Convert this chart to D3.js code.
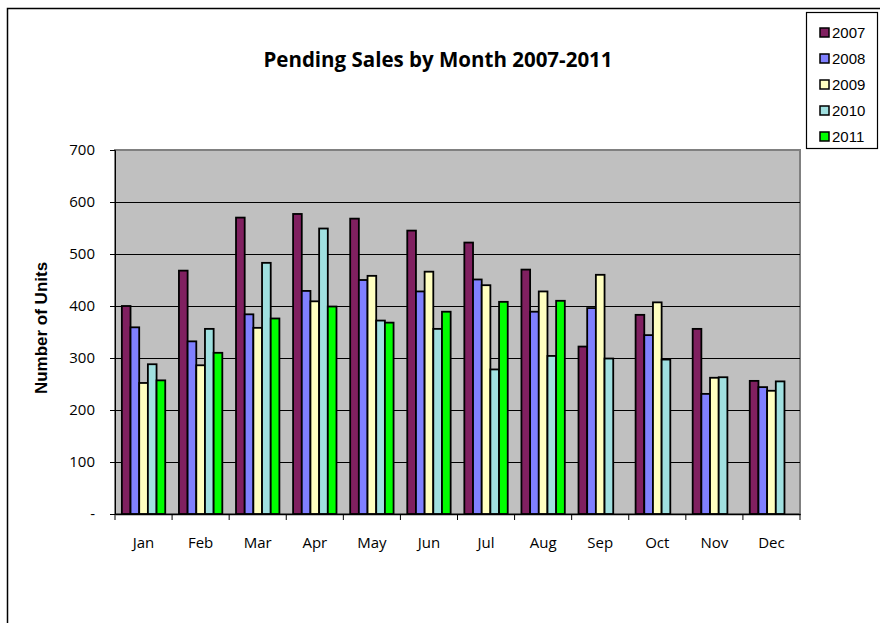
<!DOCTYPE html>
<meta charset="utf-8">
<script src="https://d3js.org/d3.v7.min.js"></script>
<style>
  body { margin: 0; background: #fff; }
  text { font-family: "Open Sans", "Liberation Sans", sans-serif; }
</style>
<div id="chart"></div>
<script>

// chart data
var months = ["Jan","Feb","Mar","Apr","May","Jun","Jul","Aug","Sep","Oct","Nov","Dec"];
var years = ["2007","2008","2009","2010","2011"];
var sales2007 = [400, 468, 570, 577, 568, 545, 522, 470, 322, 383, 356, 256];
var sales2008 = [359, 332, 384, 429, 450, 428, 451, 389, 396, 344, 231, 244];
var sales2009 = [252, 286, 358, 409, 458, 466, 440, 428, 460, 407, 262, 237];
var sales2010 = [288, 356, 483, 549, 372, 356, 278, 304, 299, 297, 263, 255];
var sales2011 = [257, 310, 376, 399, 368, 389, 408, 410, null, null, null, null];
var yTicks = [0, 100, 200, 300, 400, 500, 600, 700];

var series = [sales2007, sales2008, sales2009, sales2010, sales2011];
var colors = ["#802060", "#8080FF", "#FFFFC0", "#A0E0E0", "#00FF00"];

var W = 880, H = 623;
var plot = {left: 115, right: 800, top: 150, bottom: 514};

var svg = d3.select("#chart").append("svg")
  .attr("width", W)
  .attr("height", H);

// outer chart border (runs off the picture right and bottom)
svg.append("rect")
  .attr("x", 7.5).attr("y", 8.5)
  .attr("width", W).attr("height", H)
  .attr("fill", "#fff")
  .attr("stroke", "#000")
  .attr("stroke-width", 1.5);

var x0 = d3.scaleBand()
  .domain(months)
  .range([plot.left, plot.right])
  .paddingInner(0.24)
  .paddingOuter(0.12);

var x1 = d3.scaleBand()
  .domain(years)
  .range([0, x0.bandwidth()]);

var y = d3.scaleLinear()
  .domain([0, 700])
  .range([plot.bottom, plot.top]);

// plot area
svg.append("rect")
  .attr("x", plot.left).attr("y", plot.top)
  .attr("width", plot.right - plot.left)
  .attr("height", plot.bottom - plot.top)
  .attr("fill", "#C0C0C0")
  .attr("stroke", "#808080")
  .attr("stroke-width", 2);

// gridlines
svg.append("g")
  .selectAll("line")
  .data(yTicks.filter(function(d) { return d > 0 && d < 700; }))
  .enter().append("line")
    .attr("x1", plot.left).attr("x2", plot.right)
    .attr("y1", function(d) { return Math.round(y(d)) + 0.5; })
    .attr("y2", function(d) { return Math.round(y(d)) + 0.5; })
    .attr("stroke", "#000")
    .attr("stroke-width", 1);

// bars
var groups = svg.append("g")
  .selectAll("g")
  .data(months)
  .enter().append("g")
    .attr("transform", function(d) { return "translate(" + x0(d) + ",0)"; });

groups.selectAll("rect")
  .data(function(m, i) {
    return years.map(function(yr, j) { return {year: yr, value: series[j][i], color: colors[j]}; })
      .filter(function(d) { return d.value != null; });
  })
  .enter().append("rect")
    .attr("x", function(d) { return x1(d.year); })
    .attr("y", function(d) { return y(d.value); })
    .attr("width", x1.bandwidth())
    .attr("height", function(d) { return y(0) - y(d.value); })
    .attr("fill", function(d) { return d.color; })
    .attr("stroke", "#000")
    .attr("stroke-width", 1.8);

// y axis
var yAxis = d3.axisLeft(y)
  .tickValues(yTicks)
  .tickSize(5)
  .tickFormat(function(d) { return d === 0 ? "-" : d; });

var gy = svg.append("g")
  .attr("transform", "translate(" + plot.left + ",0)")
  .call(yAxis);
gy.select(".domain").attr("stroke", "#000");
gy.selectAll(".tick text")
  .attr("x", -20)
  .style("font-size", "15px")
  .style("font-family", "'Open Sans', sans-serif")
  .attr("fill", "#000");

// x axis
var xAxis = d3.axisBottom(x0).tickSize(0);
var gx = svg.append("g")
  .attr("transform", "translate(0," + plot.bottom + ")")
  .call(xAxis);
gx.select(".domain").attr("stroke", "#000").attr("stroke-width", 1.5);
gx.selectAll(".tick text")
  .attr("y", 23)
  .style("font-size", "15px")
  .style("font-family", "'Open Sans', sans-serif")
  .attr("fill", "#000");

// category boundary ticks
svg.append("g")
  .selectAll("line")
  .data(d3.range(months.length + 1))
  .enter().append("line")
    .attr("x1", function(i) { return plot.left + i * x0.step(); })
    .attr("x2", function(i) { return plot.left + i * x0.step(); })
    .attr("y1", plot.bottom)
    .attr("y2", plot.bottom + 6)
    .attr("stroke", "#000");

// title
svg.append("text")
  .attr("x", 438).attr("y", 67)
  .attr("text-anchor", "middle")
  .style("font-size", "20.5px")
  .style("font-weight", "bold")
  .text("Pending Sales by Month 2007-2011");

// y axis title
svg.append("text")
  .attr("transform", "translate(47,328) rotate(-90)")
  .attr("text-anchor", "middle")
  .style("font-family", "'Liberation Sans', Arial, sans-serif")
  .style("font-size", "17px")
  .style("font-weight", "bold")
  .text("Number of Units");

// legend
var legend = svg.append("g");
legend.append("rect")
  .attr("x", 806.5).attr("y", 12.5)
  .attr("width", 71).attr("height", 136)
  .attr("fill", "#fff")
  .attr("stroke", "#000")
  .attr("stroke-width", 1.2);

var items = legend.selectAll("g.item")
  .data(years)
  .enter().append("g")
    .attr("class", "item")
    .attr("transform", function(d, i) { return "translate(820," + (33 + i * 26) + ")"; });

items.append("rect")
  .attr("x", 0).attr("y", -5)
  .attr("width", 9).attr("height", 9)
  .attr("fill", function(d, i) { return colors[i]; })
  .attr("stroke", "#000")
  .attr("stroke-width", 1.5);

items.append("text")
  .attr("x", 12).attr("y", 5)
  .style("font-family", "'Liberation Sans', Arial, sans-serif")
  .style("font-size", "15px")
  .text(function(d) { return d; });

</script>
